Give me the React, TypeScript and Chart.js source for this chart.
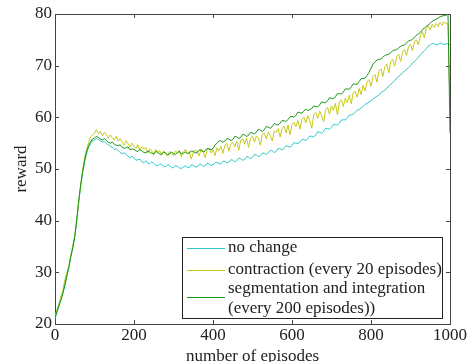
import React, { useEffect, useRef } from "react";
import { Chart, registerables } from "chart.js";
Chart.register(...registerables);

// episodes sampled every 5
const episodes: number[] = Array.from({ length: 201 }, (_, i) => i * 5);

const noChange = [
  21.0, 22.3, 23.4, 24.8, 26.1, 27.4, 29.2, 30.9, 33.1, 34.6, 36.8, 39.9, 43.6, 46.6, 49.2, 51.4, 53.0, 54.2, 54.9, 55.5,
  55.6, 55.9, 55.7, 55.5, 55.2, 55.3, 54.9, 54.7, 54.4, 54.2, 53.8, 53.9, 53.6, 53.2, 53.0, 53.1, 52.8, 52.4, 52.2, 52.5,
  52.1, 51.7, 51.8, 51.9, 51.4, 51.2, 51.6, 51.1, 51.0, 51.4, 51.1, 50.7, 50.6, 51.0, 50.9, 50.5, 50.4, 50.8, 50.7, 50.3,
  50.2, 50.7, 50.5, 50.2, 50.1, 50.4, 50.6, 50.3, 50.3, 50.8, 50.7, 50.4, 50.4, 50.9, 50.9, 50.5, 50.6, 51.1, 51.0, 50.7,
  50.8, 51.2, 51.3, 51.0, 51.0, 51.5, 51.5, 51.2, 51.3, 51.8, 51.7, 51.4, 51.6, 52.1, 52.0, 51.7, 51.8, 52.4, 52.3, 52.0,
  52.3, 52.8, 52.7, 52.4, 52.6, 53.1, 53.0, 52.8, 53.1, 53.6, 53.5, 53.2, 53.4, 54.0, 53.9, 53.7, 54.0, 54.5, 54.4, 54.2,
  54.6, 55.1, 55.0, 54.9, 55.2, 55.7, 55.7, 55.5, 55.9, 56.4, 56.3, 56.2, 56.6, 57.2, 57.1, 56.9, 57.3, 57.9, 57.8, 57.7,
  58.1, 58.6, 58.6, 58.5, 58.9, 59.5, 59.5, 59.5, 59.9, 60.4, 60.5, 60.6, 61.0, 61.4, 61.5, 61.8, 62.1, 62.5, 62.7, 63.0,
  63.2, 63.6, 63.8, 64.1, 64.3, 64.8, 65.0, 65.3, 65.6, 66.1, 66.4, 66.7, 67.1, 67.6, 67.9, 68.2, 68.6, 69.0, 69.3, 69.6,
  70.0, 70.5, 70.8, 71.2, 71.6, 72.1, 72.5, 72.9, 73.3, 73.8, 74.0, 74.3, 74.2, 74.0, 74.1, 74.4, 74.3, 74.1, 74.2, 74.3, 74.0,
];

const contraction = [
  21.5, 22.8, 23.9, 25.4, 26.5, 28.6, 29.9, 31.3, 33.4, 35.2, 37.2, 40.1, 43.5, 47.0, 49.8, 52.3, 53.8, 55.1, 56.2, 56.6,
  56.9, 57.6, 56.8, 57.3, 56.4, 57.1, 56.7, 55.9, 56.6, 56.1, 55.6, 56.3, 55.4, 55.9, 55.2, 54.6, 55.5, 54.9, 54.3, 55.0,
  54.4, 54.0, 54.7, 53.6, 54.3, 53.8, 54.2, 53.1, 53.9, 53.5, 52.8, 53.8, 53.2, 53.6, 52.7, 53.5, 53.0, 52.5, 53.4, 52.9,
  52.6, 53.5, 53.1, 53.6, 52.4, 53.3, 53.8, 52.9, 53.4, 51.9, 53.2, 53.7, 53.3, 52.5, 53.9, 53.4, 52.2, 53.6, 54.0, 53.1,
  53.7, 52.6, 54.1, 53.5, 54.4, 53.0, 54.6, 55.0, 53.4, 54.8, 55.2, 54.3, 55.4, 53.6, 55.5, 55.9, 54.8, 56.0, 54.2, 55.9,
  56.3, 55.2, 56.4, 56.0, 54.6, 56.7, 56.9, 55.8, 57.2, 56.5, 55.4, 57.4, 57.1, 57.8, 56.2, 57.9, 58.3, 57.0, 58.5, 56.6,
  58.6, 59.0, 58.2, 59.4, 57.7, 59.6, 60.0, 58.9, 60.3, 59.4, 57.9, 60.5, 60.9, 59.8, 61.2, 60.4, 59.1, 61.5, 61.9, 60.6,
  62.2, 61.3, 62.7, 60.5, 62.9, 63.4, 62.1, 63.7, 62.8, 64.3, 62.6, 64.8, 65.0, 63.9, 65.6, 64.4, 66.2, 65.1, 66.9, 67.3,
  66.0, 67.9, 68.3, 66.8, 68.9, 69.4, 67.9, 69.8, 70.3, 68.6, 70.8, 71.2, 69.9, 71.7, 72.2, 70.8, 72.6, 73.1, 72.0, 73.7,
  74.1, 72.9, 74.6, 75.0, 74.0, 75.8, 76.6, 75.4, 77.3, 77.7, 76.9, 78.0, 77.4, 78.2, 77.6, 78.4, 77.8, 78.5, 78.2, 78.0, 62.0,
];

const segmentation = [
  21.2, 22.4, 23.6, 24.6, 25.9, 27.6, 29.4, 31.0, 33.0, 34.8, 36.9, 40.2, 43.8, 46.9, 49.5, 51.7, 53.3, 54.5, 55.2, 55.8,
  56.0, 56.3, 56.1, 55.8, 55.6, 55.9, 55.5, 55.2, 55.0, 55.2, 54.8, 54.6, 54.5, 54.7, 54.2, 54.0, 54.1, 54.3, 53.7, 53.9,
  53.8, 53.5, 53.4, 53.8, 53.5, 53.2, 53.1, 53.5, 53.3, 53.0, 52.9, 53.4, 53.2, 52.9, 52.8, 53.3, 53.1, 52.8, 52.9, 53.3,
  53.0, 52.8, 53.2, 53.4, 52.9, 53.1, 53.3, 53.0, 53.1, 53.5, 53.4, 53.1, 53.2, 53.7, 53.6, 53.3, 53.5, 54.0, 53.9, 53.7,
  54.0, 54.6, 55.0, 55.4, 55.5, 55.2, 55.4, 55.9, 55.8, 55.5, 55.7, 56.3, 56.2, 55.9, 56.1, 56.7, 56.6, 56.3, 56.5, 57.1,
  57.0, 56.8, 57.1, 57.7, 57.5, 57.3, 57.6, 58.2, 58.1, 57.9, 58.2, 58.8, 58.6, 58.5, 58.9, 59.4, 59.3, 59.2, 59.6, 60.1,
  60.2, 60.0, 60.4, 61.0, 60.9, 60.8, 61.2, 61.6, 61.3, 61.5, 61.7, 62.2, 62.1, 62.0, 62.4, 63.0, 62.9, 62.8, 63.2, 63.8,
  63.7, 63.6, 64.0, 64.6, 64.6, 64.5, 64.9, 65.5, 65.5, 65.4, 65.9, 66.5, 66.4, 66.4, 66.9, 67.5, 67.5, 67.6, 68.1, 68.7,
  69.5, 70.3, 70.7, 71.1, 71.2, 71.3, 71.6, 72.0, 72.1, 72.2, 72.5, 72.9, 73.0, 73.1, 73.4, 73.8, 73.9, 74.0, 74.4, 74.8,
  74.9, 75.1, 75.5, 75.9, 76.1, 76.5, 76.9, 77.3, 77.6, 77.9, 78.2, 78.6, 78.8, 79.0, 79.2, 79.5, 79.6, 79.7, 79.8, 79.9, 57.0,
];

const xTicks = [0, 200, 400, 600, 800, 1000];
const yTicks = [20, 30, 40, 50, 60, 70, 80];

const seriesNames = [
  "no change",
  "contraction (every 20 episodes)",
  "segmentation and integration",
];
const seriesNameLine2 = "(every 200 episodes))";
const colors = ["#2cc8c8", "#c8c814", "#169616"];
const FONT = "'Liberation Serif', 'Times New Roman', serif";

const framePlugin = {
  id: "frame",
  beforeDatasetsDraw(chart: any) {
    const { ctx, chartArea: a, scales } = chart;
    ctx.save();
    ctx.strokeStyle = "#444";
    ctx.lineWidth = 1;
    ctx.strokeRect(Math.round(a.left) + 0.5, Math.round(a.top) + 0.5, Math.round(a.right - a.left), Math.round(a.bottom - a.top));
    ctx.beginPath();
    xTicks.forEach((v) => {
      const px = Math.round(scales.x.getPixelForValue(v)) + 0.5;
      ctx.moveTo(px, a.bottom);
      ctx.lineTo(px, a.bottom - 4);
      ctx.moveTo(px, a.top);
      ctx.lineTo(px, a.top + 4);
    });
    yTicks.forEach((v) => {
      const py = Math.round(scales.y.getPixelForValue(v)) + 0.5;
      ctx.moveTo(a.left, py);
      ctx.lineTo(a.left + 4, py);
      ctx.moveTo(a.right, py);
      ctx.lineTo(a.right - 4, py);
    });
    ctx.stroke();
    ctx.restore();
  },
  afterDraw(chart: any) {
    const { ctx, chartArea: a } = chart;
    ctx.save();
    ctx.fillStyle = "#222";
    ctx.font = `17px ${FONT}`;
    ctx.textAlign = "center";
    ctx.textBaseline = "middle";
    ctx.fillText("number of episodes", (a.left + a.right) / 2, 357);
    ctx.save();
    ctx.translate(22, (a.top + a.bottom) / 2);
    ctx.rotate(-Math.PI / 2);
    ctx.fillText("reward", 0, 0);
    ctx.restore();
    // legend
    const bx = 182, by = 237, bw = 260, bh = 81;
    ctx.fillStyle = "#fff";
    ctx.fillRect(bx, by, bw, bh);
    ctx.strokeStyle = "#222";
    ctx.lineWidth = 1;
    ctx.strokeRect(bx + 0.5, by + 0.5, bw, bh);
    const lineY = [248, 270, 297];
    const textY = [248, 270, 289];
    ctx.textAlign = "left";
    for (let i = 0; i < 3; i++) {
      ctx.strokeStyle = colors[i];
      ctx.beginPath();
      ctx.moveTo(187, lineY[i] + 0.5);
      ctx.lineTo(225, lineY[i] + 0.5);
      ctx.stroke();
      ctx.fillStyle = "#222";
      ctx.fillText(seriesNames[i], 228, textY[i]);
    }
    ctx.fillText(seriesNameLine2, 228, 309);
    ctx.restore();
  },
};

export default function App() {
  const ref = useRef<HTMLCanvasElement>(null);
  useEffect(() => {
    if (!ref.current) return;
    const mk = (vals: number[]) => episodes.map((x, i) => ({ x, y: vals[i] }));
    const chart = new Chart(ref.current, {
      type: "line",
      data: {
        datasets: [
          { label: seriesNames[0], data: mk(noChange), borderColor: colors[0], borderWidth: 1, pointRadius: 0, order: 2 },
          { label: seriesNames[1], data: mk(contraction), borderColor: colors[1], borderWidth: 1, pointRadius: 0, order: 1 },
          { label: seriesNames[2], data: mk(segmentation), borderColor: colors[2], borderWidth: 1, pointRadius: 0, order: 0 },
        ],
      },
      options: {
        animation: false,
        responsive: false,
        devicePixelRatio: 1,
        layout: { padding: { top: 14, right: 20, left: 0, bottom: 0 } },
        plugins: { legend: { display: false }, tooltip: { enabled: false } },
        scales: {
          x: {
            type: "linear",
            min: 0,
            max: 1000,
            grid: { display: false, drawTicks: false },
            border: { display: false },
            ticks: {
              stepSize: 200,
              maxRotation: 0,
              padding: 1,
              color: "#222",
              font: { family: FONT, size: 17 },
              callback: (v: any) => String(v),
            },
            afterFit: (s: any) => { s.height = 38; },
          },
          y: {
            min: 20,
            max: 80,
            grid: { display: false, drawTicks: false },
            border: { display: false },
            ticks: { stepSize: 10, padding: 3, color: "#222", font: { family: FONT, size: 17 } },
            afterFit: (s: any) => { s.width = 55; },
          },
        },
      },
      plugins: [framePlugin],
    });
    return () => chart.destroy();
  }, []);
  return (
    <div style={{ position: "fixed", left: 0, top: 0, width: 470, height: 362, background: "#fff" }}>
      <canvas ref={ref} width={470} height={362} />
    </div>
  );
}
